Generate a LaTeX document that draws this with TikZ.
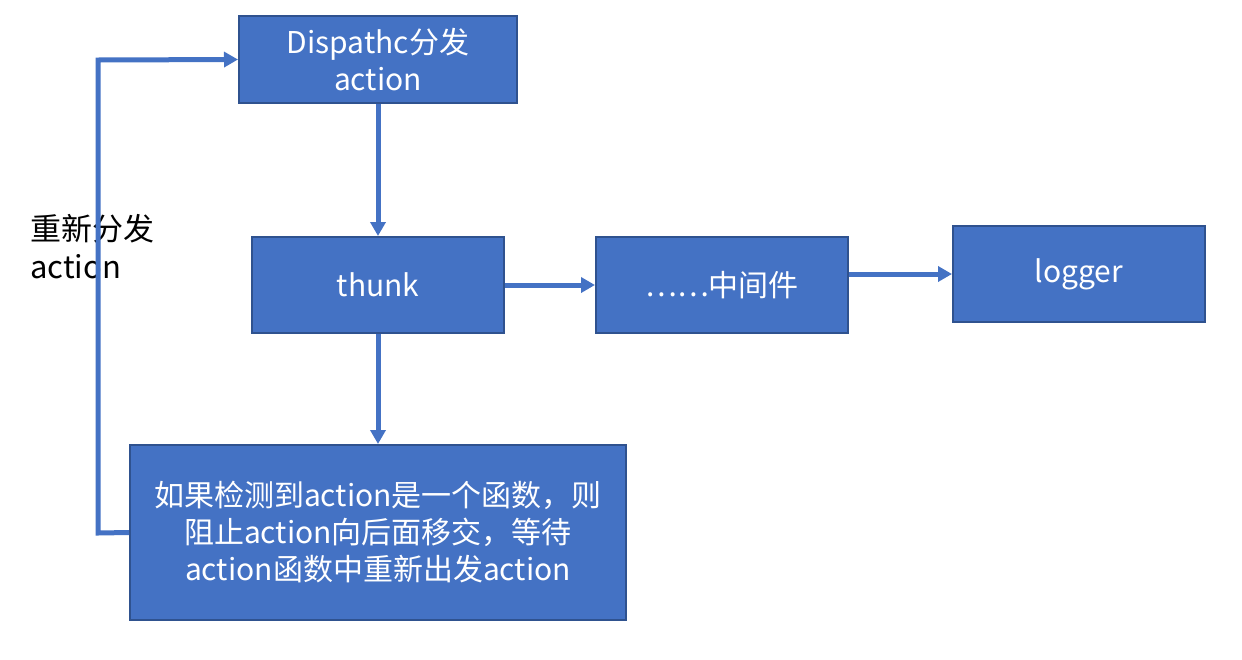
\documentclass[tikz,border=0pt]{standalone}
\usepackage{fontspec}
\setmainfont{Noto Sans CJK SC}
\usetikzlibrary{arrows.meta}
\definecolor{boxfill}{HTML}{4472C4}
\definecolor{boxline}{HTML}{2F528F}
\tikzset{
  box/.style={draw=boxline, line width=2pt, fill=boxfill, text=white, align=center,
    font=\fontsize{30}{37}\selectfont, inner sep=0pt},
  conn/.style={draw=boxfill, line width=5pt, -{Triangle[length=14pt,width=15pt]}},
}
\begin{document}
\begin{tikzpicture}[x=1pt,y=-1pt]
\useasboundingbox (0,0) rectangle (1242,659);
\node[box, minimum width=278pt, minimum height=87pt] (disp) at (378,59.5) {Dispathc分发\\action};
\node[box, minimum width=252pt, minimum height=96pt] (thunk) at (378,285) {thunk};
\node[box, minimum width=252pt, minimum height=96pt] (mid) at (722,285) {……中间件};
\node[box, minimum width=252pt, minimum height=96pt] (log) at (1079,274) {logger};
\node[box, minimum width=496pt, minimum height=175pt] (check) at (378,532.5) {如果检测到action是一个函数，则\\阻止action向后面移交，等待\\action函数中重新出发action};
\node[anchor=north west, align=left, font=\fontsize{31}{38}\selectfont, inner sep=0pt] (lbl) at (30,214) {重新分发\\action};
\coordinate (c1) at (98,533);
\coordinate (c2) at (98,60);
\draw[conn] (disp.south) -- (thunk.north);
\draw[conn] (thunk.east) -- (mid.west);
\draw[conn] (mid.east |- log.west) -- (log.west);
\draw[conn] (thunk.south) -- (check.north);
\draw[conn, line join=miter] (check.west) -- (c1) -- (c2) -- (disp.west);
\end{tikzpicture}
\end{document}
